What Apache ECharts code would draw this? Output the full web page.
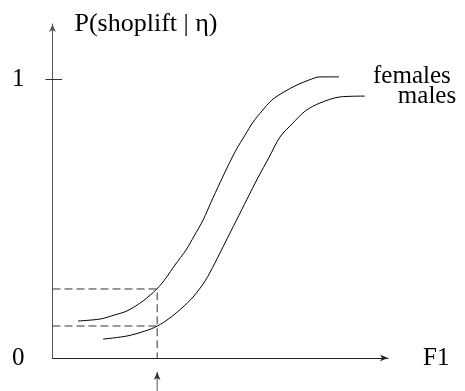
<!DOCTYPE html>
<html>
<head>
<meta charset="utf-8">
<script src="https://cdn.jsdelivr.net/npm/echarts@6/dist/echarts.min.js"></script>
<style>
  html, body { margin: 0; padding: 0; background: #fff; }
  #chart { width: 465px; height: 391px; }
</style>
</head>
<body>
<div id="chart"></div>
<script>
// Logistic-style response curves: probability of shoplifting against factor F1
const femalesF1 = [0.76, 1.42, 1.86, 2.22, 2.70, 3.11, 3.38, 3.65, 3.98, 4.22, 4.49, 4.73, 4.99, 5.23, 5.47, 5.74, 5.98, 6.24, 6.54, 6.90, 7.29, 7.65, 7.97, 8.54];
const femalesP  = [0.133, 0.140, 0.155, 0.169, 0.205, 0.248, 0.287, 0.334, 0.388, 0.438, 0.496, 0.561, 0.629, 0.690, 0.747, 0.801, 0.848, 0.887, 0.927, 0.956, 0.981, 0.999, 1.010, 1.010];
const malesF1   = [1.51, 2.22, 2.76, 3.13, 3.50, 3.86, 4.19, 4.55, 4.84, 5.14, 5.47, 5.80, 6.12, 6.46, 6.78, 7.14, 7.53, 7.97, 8.57, 9.31];
const malesP    = [0.068, 0.079, 0.097, 0.115, 0.144, 0.180, 0.219, 0.277, 0.341, 0.413, 0.492, 0.571, 0.647, 0.722, 0.794, 0.841, 0.887, 0.916, 0.938, 0.941];

const cutF1 = 3.12;
const cutPFemales = 0.248;
const cutPMales = 0.115;

const yTicks = [0, 1];
const seriesNames = ['females', 'males'];
const axisNames = { x: 'F1', y: 'P(shoplift | η)' };

const FONT = 'Liberation Serif';
const FS = 25;
const txt = { fontFamily: FONT, fontSize: FS, color: '#000' };
const pairs = (xs, ys) => xs.map((x, i) => [x, ys[i]]);

const dashStyle = { color: '#333', width: 1, type: [8, 4] };

const chart = echarts.init(document.getElementById('chart'));
chart.setOption({
  animation: false,
  textStyle: { fontFamily: FONT, fontSize: FS, color: '#000' },
  grid: { left: 52.5, right: 77, top: 24, bottom: 33 },
  xAxis: {
    type: 'value', min: 0, max: 10,
    name: axisNames.x, nameLocation: 'end', nameGap: 35,
    nameTextStyle: Object.assign({}, txt),
    axisLine: { lineStyle: { color: '#222', width: 1 }, symbol: ['none', 'arrow'], symbolSize: [5, 8] },
    axisTick: { show: false }, axisLabel: { show: false }, splitLine: { show: false }
  },
  yAxis: [{
    type: 'value', min: 0, max: 1.2,
    name: axisNames.y, nameLocation: 'end', nameGap: 0,
    nameTextStyle: Object.assign({}, txt, { fontSize: 26, align: 'left', verticalAlign: 'middle', padding: [0, 0, 0, 22] }),
    axisLine: { lineStyle: { color: '#555', width: 1 }, symbol: ['none', 'arrow'], symbolSize: [5, 8] },
    axisTick: { show: true, customValues: [1], length: 7, lineStyle: { color: '#333' } },
    axisLabel: Object.assign({ customValues: yTicks, margin: 28 }, txt),
    splitLine: { show: false }
  }, {
    // inner half of the cross tick at 1
    type: 'value', min: 0, max: 1.2, position: 'left',
    axisLine: { show: false },
    axisTick: { show: true, inside: true, customValues: [1], length: 9.5, lineStyle: { color: '#333' } },
    axisLabel: { show: false }, splitLine: { show: false }
  }],
  series: [
    {
      name: seriesNames[0], type: 'line', smooth: 0.3, showSymbol: false,
      data: pairs(femalesF1, femalesP),
      lineStyle: { color: '#000', width: 1 },
      endLabel: Object.assign({ show: true, formatter: '{a}', distance: 34 }, txt)
    },
    {
      name: seriesNames[1], type: 'line', smooth: 0.3, showSymbol: false,
      data: pairs(malesF1, malesP),
      lineStyle: { color: '#000', width: 1 },
      endLabel: Object.assign({ show: true, formatter: '{a}', distance: 33 }, txt)
    },
    {
      type: 'line', showSymbol: false, silent: true,
      data: [[0, cutPFemales], [cutF1, cutPFemales], [cutF1, 0]],
      lineStyle: dashStyle
    },
    {
      type: 'line', showSymbol: false, silent: true,
      data: [[0, cutPMales], [cutF1, cutPMales]],
      lineStyle: dashStyle
    },
    {
      // upward pointer below the F1 axis at the reference value
      type: 'line', clip: false, silent: true,
      data: [
        { value: [cutF1, -0.12], symbol: 'none' },
        { value: [cutF1, -0.05], symbol: 'arrow', symbolSize: [5, 8] }
      ],
      showSymbol: true,
      itemStyle: { color: '#333' },
      lineStyle: { color: '#555', width: 1 }
    }
  ]
});
</script>
</body>
</html>
